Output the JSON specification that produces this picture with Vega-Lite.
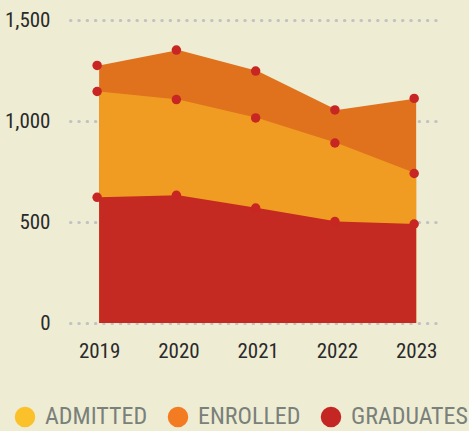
{
  "$schema": "https://vega.github.io/schema/vega-lite/v6.json",
  "autosize": "none",
  "width": 370,
  "height": 303,
  "padding": {"left": 70, "top": 20, "right": 29, "bottom": 108},
  "background": "#eeedd4",
  "config": {
    "view": {"stroke": null},
    "font": "Liberation Sans Narrow, Roboto Condensed, DejaVu Sans Condensed, sans-serif"
  },
  "data": {
    "values": [
      {"year": "2019", "series": "ENROLLED", "value": 1275},
      {"year": "2020", "series": "ENROLLED", "value": 1351},
      {"year": "2021", "series": "ENROLLED", "value": 1247},
      {"year": "2022", "series": "ENROLLED", "value": 1055},
      {"year": "2023", "series": "ENROLLED", "value": 1112},
      {"year": "2019", "series": "ADMITTED", "value": 1146},
      {"year": "2020", "series": "ADMITTED", "value": 1106},
      {"year": "2021", "series": "ADMITTED", "value": 1015},
      {"year": "2022", "series": "ADMITTED", "value": 891},
      {"year": "2023", "series": "ADMITTED", "value": 740},
      {"year": "2019", "series": "GRADUATES", "value": 622},
      {"year": "2020", "series": "GRADUATES", "value": 632},
      {"year": "2021", "series": "GRADUATES", "value": 569},
      {"year": "2022", "series": "GRADUATES", "value": 502},
      {"year": "2023", "series": "GRADUATES", "value": 490}
    ]
  },
  "encoding": {
    "x": {
      "field": "year", "type": "ordinal",
      "scale": {"type": "point", "padding": 0.334, "align": 0.55},
      "axis": {"title": null, "domain": false, "ticks": false, "grid": false, "labelAngle": 0,
               "labelFontSize": 21, "labelColor": "#2a2a2a", "labelPadding": 17}
    },
    "y": {
      "field": "value", "type": "quantitative",
      "scale": {"domain": [0, 1500], "nice": false},
      "axis": {"title": null, "domain": false, "ticks": false, "values": [0, 500, 1000, 1500],
               "labelFontSize": 21, "labelColor": "#2a2a2a", "labelPadding": 20,
               "grid": true, "gridColor": "#c2c2c2", "gridWidth": 3, "gridCap": "round", "gridDash": [0.5, 7.8]}
    }
  },
  "layer": [
    {
      "transform": [{"filter": "datum.series === 'ENROLLED'"}],
      "mark": {"type": "area", "color": "#e0721e"},
      "encoding": {"y": {"field": "value", "type": "quantitative", "stack": null}}
    },
    {
      "transform": [{"filter": "datum.series === 'ADMITTED'"}],
      "mark": {"type": "area", "color": "#f09c22"},
      "encoding": {"y": {"field": "value", "type": "quantitative", "stack": null}}
    },
    {
      "transform": [{"filter": "datum.series === 'GRADUATES'"}],
      "mark": {"type": "area", "color": "#c42a21"},
      "encoding": {"y": {"field": "value", "type": "quantitative", "stack": null}}
    },
    {
      "mark": {"type": "point", "filled": true, "opacity": 1, "size": 90, "color": "#c82623", "xOffset": -2},
      "encoding": {"y": {"field": "value", "type": "quantitative", "stack": null}}
    },
    {
      "mark": {"type": "point", "filled": true, "opacity": 0, "size": 10},
      "encoding": {
        "y": {"field": "value", "type": "quantitative", "stack": null},
        "color": {
          "field": "series", "type": "nominal",
          "scale": {"domain": ["ADMITTED", "ENROLLED", "GRADUATES"], "range": ["#fbc12a", "#f37b22", "#c42623"]},
          "legend": {
            "title": null, "orient": "none", "direction": "horizontal",
            "legendX": -57, "legendY": 385,
            "symbolType": "circle", "symbolSize": 420, "symbolOpacity": 1, "symbolStrokeWidth": 0,
            "labelFontSize": 24, "labelColor": "#7a807a", "labelOffset": 8,
            "columnPadding": 18, "labelLimit": 200
          }
        }
      }
    }
  ]
}
